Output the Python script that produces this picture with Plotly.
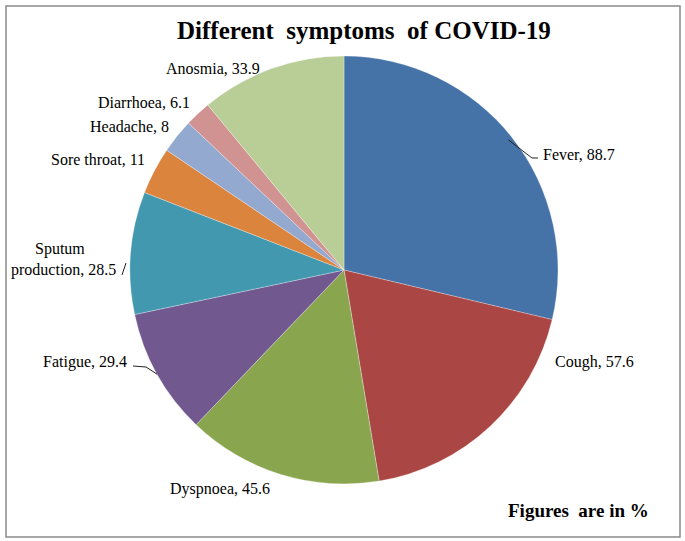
import math
import plotly.graph_objects as go

symptoms = ["Fever", "Cough", "Dyspnoea", "Fatigue", "Sputum production",
            "Sore throat", "Headache", "Diarrhoea", "Anosmia"]
percent = [88.7, 57.6, 45.6, 29.4, 28.5, 11, 8, 6.1, 33.9]
colors = ["#4572A7", "#AA4643", "#89A54E", "#71588F", "#4198AF",
          "#DB843D", "#93A9CF", "#D19392", "#B9CD96"]

W, H = 685, 541
cx, cy, r = 344, 270, 214  # pie centre / radius in pixels
FONT = "Liberation Serif, Times New Roman, serif"

fig = go.Figure(go.Pie(
    labels=symptoms,
    values=percent,
    sort=False,
    direction="clockwise",
    rotation=0,
    marker=dict(colors=colors, line=dict(color="rgba(255,255,255,0.6)", width=0.5)),
    textinfo="none",
    hoverinfo="label+value",
    domain=dict(x=[(cx - r) / W, (cx + r) / W], y=[1 - (cy + r) / H, 1 - (cy - r) / H]),
    showlegend=False,
))

# label placement (pixel positions of label text, and anchor)
label_pos = {
    "Fever": (541, 154, "left"),
    "Cough": (553, 362, "left"),
    "Dyspnoea": (168, 489, "left"),
    "Fatigue": (129, 362, "right"),
    "Sputum production": (118, 259, "right"),
    "Sore throat": (147, 160, "right"),
    "Headache": (171, 126, "right"),
    "Diarrhoea": (192, 103, "right"),
    "Anosmia": (262, 68, "right"),
}

def px(x, y):
    return x / W, 1 - y / H

annotations = []
for name, val in zip(symptoms, percent):
    x, y, anchor = label_pos[name]
    txt = f"{name}, {val:g}"
    if name == "Sputum production":
        txt = f"\u2007\u2007\u2007Sputum<br>production, {val:g}"
    ax, ay = px(x, y)
    annotations.append(dict(x=ax, y=ay, xref="paper", yref="paper", text=txt,
                            showarrow=False, xanchor=anchor, yanchor="middle",
                            align="left",
                            font=dict(family=FONT, size=16, color="black")))

# leader lines from slice mid-angle edge to label
total = sum(percent)
cum = 0
mid_angle = {}
for name, val in zip(symptoms, percent):
    mid_angle[name] = (cum + val / 2) / total * 2 * math.pi
    cum += val

shapes = []
def edge(name, k=1.0):
    a = mid_angle[name]
    return cx + r * k * math.sin(a), cy - r * k * math.cos(a)

def seg(p, q):
    (x0, y0), (x1, y1) = px(*p), px(*q)
    shapes.append(dict(type="line", xref="paper", yref="paper", x0=x0, y0=y0,
                       x1=x1, y1=y1, line=dict(color="#222", width=1)))

ex, ey = edge("Fever", 0.98)
seg((ex, ey), (532, 158))
seg((532, 158), (538, 158))
ex, ey = edge("Fatigue", 1.0)
seg((ex, ey), (146, 367))
seg((146, 367), (133, 366))
seg((122, 275), (126, 263))

# chart frame
shapes.append(dict(type="rect", xref="paper", yref="paper",
                   x0=6 / W, x1=680 / W, y0=1 - 537 / H, y1=1 - 6 / H,
                   line=dict(color="#8a8a8a", width=1.5)))

annotations.append(dict(x=364 / W, y=1 - 31 / H, xref="paper", yref="paper",
                        text="<b>Different  symptoms  of COVID-19</b>", showarrow=False,
                        yanchor="middle",
                        font=dict(family=FONT, size=25, color="black")))
annotations.append(dict(x=651 / W, y=1 - 510 / H, xref="paper", yref="paper",
                        text="<b>Figures  are in %</b>", showarrow=False,
                        xanchor="right", yanchor="middle",
                        font=dict(family=FONT, size=19, color="black")))

fig.update_layout(
    width=W, height=H,
    margin=dict(l=0, r=0, t=0, b=0),
    paper_bgcolor="white",
    plot_bgcolor="white",
    annotations=annotations,
    shapes=shapes,
)

fig.write_html("out.html", config={"displayModeBar": False},
               post_script="document.body.style.margin='0';")
